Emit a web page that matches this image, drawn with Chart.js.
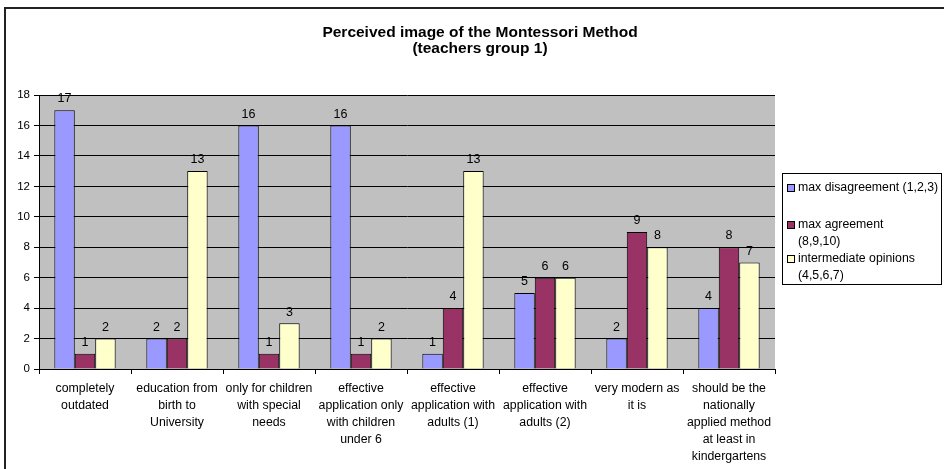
<!DOCTYPE html>
<html>
<head>
<meta charset="utf-8">
<script src="https://cdn.jsdelivr.net/npm/chart.js@4.4.1/dist/chart.umd.min.js"></script>
<style>
html,body{margin:0;padding:0;background:#fff;}
canvas{display:block;}
</style>
</head>
<body>
<canvas id="c" width="944" height="469"></canvas>
<script>
const titleLines = ["Perceived image of the Montessori Method", "(teachers group 1)"];
const categories = [
  ["completely", "outdated"],
  ["education from", "birth to", "University"],
  ["only for children", "with special", "needs"],
  ["effective", "application only", "with children", "under 6"],
  ["effective", "application with", "adults (1)"],
  ["effective", "application with", "adults (2)"],
  ["very modern as", "it is"],
  ["should be the", "nationally", "applied method", "at least in", "kindergartens"]
];
const seriesNames = [
  ["max disagreement (1,2,3)"],
  ["max agreement", "(8,9,10)"],
  ["intermediate opinions", "(4,5,6,7)"]
];
const maxDisagreement = [17, 2, 16, 16, 1, 5, 2, 4];
const maxAgreement = [1, 2, 1, 1, 4, 6, 9, 8];
const intermediate = [2, 13, 3, 2, 13, 6, 8, 7];
const yTicks = [0, 2, 4, 6, 8, 10, 12, 14, 16, 18];

const colors = ["#9999FF", "#993366", "#FFFFCC"];
const FONT = "'Liberation Sans', Arial, sans-serif";

const bgPlugin = {
  id: 'bg',
  beforeDraw(chart) {
    const ctx = chart.ctx, a = chart.chartArea;
    ctx.save();
    ctx.fillStyle = '#ffffff';
    ctx.fillRect(0, 0, chart.width, chart.height);
    ctx.fillStyle = '#C0C0C0';
    ctx.fillRect(a.left, a.top, a.right - a.left, a.bottom - a.top);
    ctx.strokeStyle = '#222';
    ctx.lineWidth = 2;
    ctx.strokeRect(5, 8, chart.width + 20, chart.height + 20);
    ctx.restore();
  }
};

const labelPlugin = {
  id: 'vals',
  afterDatasetsDraw(chart) {
    const ctx = chart.ctx;
    ctx.save();
    ctx.font = "12.5px " + FONT;
    ctx.fillStyle = '#000';
    ctx.textAlign = 'center';
    ctx.textBaseline = 'bottom';
    chart.data.datasets.forEach((ds, i) => {
      chart.getDatasetMeta(i).data.forEach((el, j) => {
        ctx.fillText(String(ds.data[j]), el.x, el.y - 5);
      });
    });
    ctx.restore();
  }
};

const legendPlugin = {
  id: 'customLegend',
  afterDraw(chart) {
    const ctx = chart.ctx;
    const x0 = 782.5, y0 = 173.5, w = 159, h = 111;
    ctx.save();
    ctx.fillStyle = '#fff';
    ctx.fillRect(x0, y0, w, h);
    ctx.strokeStyle = '#000';
    ctx.lineWidth = 1;
    ctx.strokeRect(x0, y0, w, h);
    ctx.font = "12.3px " + FONT;
    ctx.textAlign = 'left';
    ctx.textBaseline = 'middle';
    const itemY = [188, 225, 259];
    seriesNames.forEach((lines, i) => {
      const y = itemY[i];
      ctx.fillStyle = colors[i];
      ctx.fillRect(787.5, y - 3.5, 7, 7);
      ctx.strokeStyle = '#000';
      ctx.strokeRect(787.5, y - 3.5, 7, 7);
      ctx.fillStyle = '#000';
      lines.forEach((t, k) => ctx.fillText(t, 798, y + k * 16.5));
    });
    ctx.restore();
  }
};

const datasets = [maxDisagreement, maxAgreement, intermediate].map((d, i) => ({
  label: seriesNames[i].join(' '),
  data: d,
  backgroundColor: colors[i],
  borderColor: '#000',
  borderWidth: 1,
  categoryPercentage: 3 / 4.5,
  barPercentage: 1.0
}));

new Chart(document.getElementById('c'), {
  type: 'bar',
  data: { labels: categories, datasets },
  plugins: [bgPlugin, labelPlugin, legendPlugin],
  options: {
    responsive: false,
    animation: false,
    devicePixelRatio: 1,
    layout: { padding: { left: 16, right: 0, top: 0, bottom: 0 } },
    plugins: {
      legend: { display: false },
      tooltip: { enabled: false },
      title: {
        display: true,
        text: titleLines,
        color: '#000',
        font: { family: FONT, size: 15.5, weight: 'bold', lineHeight: 1.0 },
        padding: { top: 25, bottom: 39 }
      }
    },
    scales: {
      x: {
        grid: { display: true, drawOnChartArea: false, drawTicks: true, tickLength: 5, color: '#000', offset: true },
        border: { display: true, color: '#000' },
        ticks: {
          color: '#000',
          font: { family: FONT, size: 12.3, lineHeight: 1.38 },
          maxRotation: 0, minRotation: 0, autoSkip: false, padding: 6
        },
        afterFit(s) { s.height = 100; }
      },
      y: {
        min: 0, max: 18,
        afterBuildTicks(s) { s.ticks = yTicks.map(v => ({ value: v })); },
        grid: { color: '#000', lineWidth: 1, drawTicks: true, tickLength: 5 },
        border: { display: true, color: '#000' },
        ticks: { color: '#000', font: { family: FONT, size: 11.5 }, padding: 4 },
        afterFit(s) { s.width = 23; }
      },
      legendSpace: {
        type: 'linear',
        position: 'right',
        display: true,
        min: 0, max: 1,
        grid: { display: false },
        border: { display: false },
        ticks: { display: false },
        afterFit(s) { s.width = 169; }
      }
    }
  }
});
</script>
</body>
</html>
